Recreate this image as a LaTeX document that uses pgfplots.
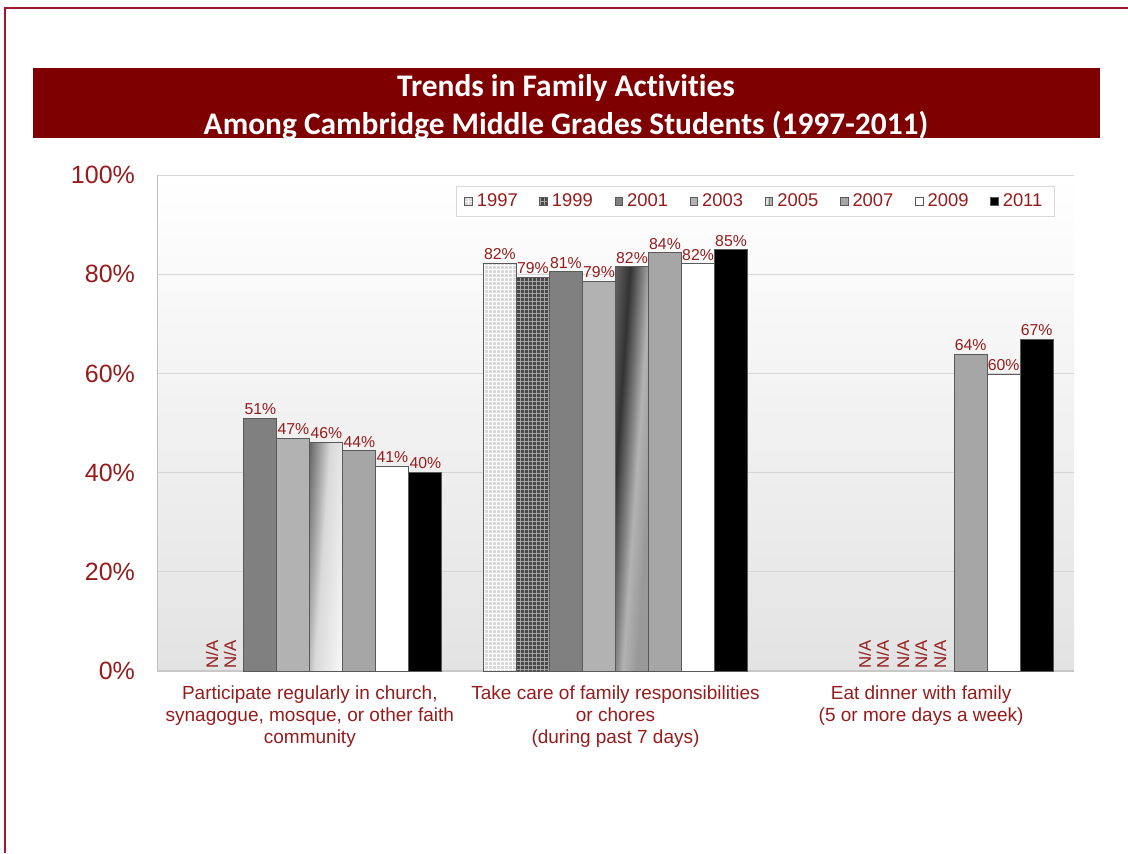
\documentclass[border=0pt]{standalone}
\usepackage{fontspec}
\setmainfont{Liberation Sans}
\newfontfamily\titlefont[Ligatures={NoCommon,NoContextual}]{Carlito}
\usepackage{pgfplots}
\pgfplotsset{compat=1.18}
\usetikzlibrary{patterns}

\definecolor{banner}{HTML}{7F0000}
\definecolor{labred}{HTML}{951C1C}
\definecolor{framered}{HTML}{A3172F}

% fine grid used for the 1997 and 1999 bars
\pgfdeclarepatternformonly{finegrid}{\pgfqpoint{-0.1pt}{-0.1pt}}{\pgfqpoint{2.1pt}{2.1pt}}{\pgfqpoint{2pt}{2pt}}{%
  \pgfsetlinewidth{0.35pt}
  \pgfpathmoveto{\pgfqpoint{0pt}{0pt}}\pgfpathlineto{\pgfqpoint{0pt}{2.05pt}}
  \pgfpathmoveto{\pgfqpoint{0pt}{0pt}}\pgfpathlineto{\pgfqpoint{2.05pt}{0pt}}
  \pgfusepath{stroke}}

% streaky shading of the 2005 bars
\pgfdeclarehorizontalshading{streaks}{100bp}{%
  color(0bp)=(black!60); color(25bp)=(black!60); color(28bp)=(black!15);
  color(33bp)=(white); color(40bp)=(black!20); color(47bp)=(black!30);
  color(53bp)=(black!85); color(56bp)=(black!25); color(61bp)=(black!15);
  color(66bp)=(black!45); color(70bp)=(black!80); color(73bp)=(black!30);
  color(75bp)=(black!40); color(100bp)=(black!40)}

\begin{document}
\begin{tikzpicture}
\path[use as bounding box] (0,0) rectangle (564pt,426.5pt);
\draw[framered, line width=1pt] (2.5pt,0) -- (2.5pt,422.5pt) -- (564pt,422.5pt);
\fill[banner] (16.5pt,357.5pt) rectangle (550pt,392.5pt);
\node[white, font=\titlefont\bfseries\fontsize{15.7}{19}\selectfont, align=center]
  at (283pt,373pt) {Trends in Family Activities\\Among Cambridge Middle Grades Students (1997-2011)};

\begin{axis}[
    at={(78.5pt,91pt)}, anchor=south west,
    scale only axis, width=458.5pt, height=248pt,
    ybar=0pt, bar width=0.108,
    xmin=-0.5, xmax=2.5, ymin=0, ymax=100,
    xtick={0,1,2},
    xticklabels={
      {Participate regularly in church,\\synagogue, mosque, or other faith\\community},
      {Take care of family responsibilities\\or chores\\(during past 7 days)},
      {Eat dinner with family\\(5 or more days a week)}},
    ytick={0,20,...,100},
    yticklabel={\pgfmathprintnumber{\tick}\%},
    /pgf/number format/assume math mode=true,
    ymajorgrids, grid style={black!16, line width=0.5pt},
    axis x line=bottom, axis y line=left,
    axis line style={-, black!25},
    x axis line style={line width=1.2pt, black!22},
    major tick length=0,
    axis background/.style={top color=white, bottom color=black!11},
    x tick label style={font=\fontsize{9.5}{11}\selectfont, text=labred, align=center, yshift=-4pt},
    y tick label style={font=\fontsize{12.5}{14}\selectfont, text=labred, xshift=-7.5pt},
    nodes near coords={\pgfmathprintnumber[fixed,precision=0]{\pgfplotspointmeta}\%},
    nodes near coords style={font=\fontsize{7.9}{9}\selectfont, text=labred, inner sep=1.5pt},
    every axis plot/.append style={draw=black!65, line width=0.5pt},
    legend columns=8,
    legend style={at={(0.979,0.978)}, anchor=north east, draw=black!15,
      font=\fontsize{9.2}{11}\selectfont, text=labred, inner ysep=1.5pt, inner xsep=4pt,
      /tikz/every even column/.append style={column sep=8.8pt}},
    legend image code/.code={\draw[#1] (0pt,-1.9pt) rectangle (3.8pt,1.9pt);},
]
% 1997
\addplot[fill=black!15, postaction={pattern=finegrid, pattern color=white}] coordinates {(1,82.2)};
% 1999
\addplot[fill=black!72, postaction={pattern=finegrid, pattern color=black!35}] coordinates {(1,79.4)};
% 2001
\addplot[fill=black!50] coordinates {(0,51.0) (1,80.5)};
% 2003
\addplot[fill=black!30] coordinates {(0,46.9) (1,78.5)};
% 2005
\addplot[shading=streaks, shading angle=-4] coordinates {(0,46.1) (1,81.5)};
% 2007
\addplot[fill=black!35] coordinates {(0,44.4) (1,84.3) (2,63.8)};
% 2009
\addplot[fill=white] coordinates {(0,41.3) (1,82.1) (2,59.8)};
% 2011
\addplot[fill=black] coordinates {(0,40.1) (1,84.9) (2,66.9)};
\legend{1997,1999,2001,2003,2005,2007,2009,2011}

\foreach \xx in {-0.32,-0.261,1.816,1.875,1.941,2.0,2.062} {
  \edef\temp{\noexpand\node[rotate=90, anchor=west, text=labred, inner sep=1pt,
    font=\noexpand\fontsize{8.4}{9}\noexpand\selectfont] at (axis cs:\xx,0) {N/A};}
  \temp
}
\end{axis}
\end{tikzpicture}
\end{document}
